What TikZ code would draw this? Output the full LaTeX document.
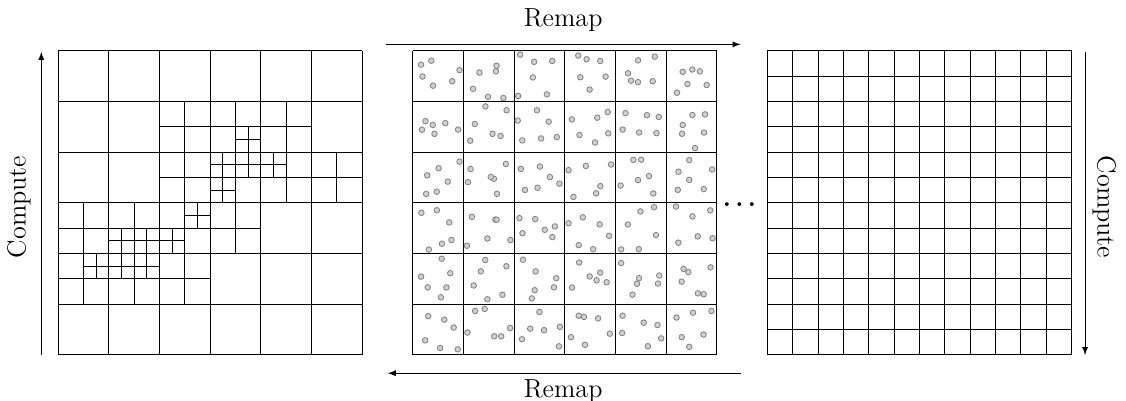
\documentclass[tikz,border=0pt]{standalone}
\usepackage{tikz}
\usepackage{xcolor}
\usetikzlibrary{arrows}
\usetikzlibrary{positioning}

\begin{document}
\begin{tikzpicture}[
        mesh/.style={black,line width=0.55pt},
        particle/.style={draw=black!50,fill=black!18,line width=0.45pt},
        flow/.style={->,>=latex,line width=0.55pt},
        caption/.style={font=\fontsize{14.7}{17}\selectfont,inner sep=0pt}]
        \useasboundingbox (-1.145,-0.908) rectangle (21.078,7.006);

        % adaptive mesh: coarse cells, then two levels of refinement
        \draw[mesh] (0,0) grid (6,6);
        \foreach \i/\j in {2/4,3/4,4/4,2/3,3/3,4/3,5/3,0/2,1/2,2/2,3/2,0/1,1/1,2/1}
            \draw[mesh] (\i,\j) grid[step=0.5] ++(1,1);
        \foreach \i/\j in {3.5/4,3/3.5,3.5/3.5,4/3.5,3/3,1/2,1.5/2,2/2,2.5/2.5,0.5/1.5,1/1.5,1.5/1.5}
            \draw[mesh] (\i,\j) grid[step=0.25] ++(0.5,0.5);

        % particles on the uniform coarse grid, six per cell
        \draw[mesh] (7,0) grid (13,6);
        \pgfmathsetseed{2718}
        \foreach \i in {0,...,5}
            \foreach \j in {0,...,5}
                \foreach \c in {0,1,2}
                    \foreach \r in {0,1}
                        \filldraw[particle] ({7+\i+0.07+0.86*(\c+rnd)/3},{\j+0.07+0.86*(\r+rnd)/2}) circle (0.055);

        % fine uniform mesh
        \draw[mesh] (14,0) grid[step=0.5] (20,6);
        \draw[mesh] (14,0) rectangle (20,6);

        \node[caption,anchor=base] (etc) at (13.45,2.94) {\bfseries .\,.\,.};

        % compute and remap steps
        \coordinate (upS) at (-0.33,0);
        \coordinate (upE) at (-0.33,5.98);
        \draw[flow] (upS) -- (upE);
        \node[caption,rotate=90] (computeL) at (-0.77,2.92) {Compute};

        \coordinate (downS) at (20.27,5.98);
        \coordinate (downE) at (20.27,0);
        \draw[flow] (downS) -- (downE);
        \node[caption,rotate=-90] (computeR) at (20.65,2.92) {Compute};

        \coordinate (fwdS) at (6.47,6.13);
        \coordinate (fwdE) at (13.47,6.13);
        \draw[flow] (fwdS) -- (fwdE);
        \node[caption,anchor=base] (remapTop) at (9.97,6.48) {Remap};

        \coordinate (backS) at (13.47,-0.36);
        \coordinate (backE) at (6.51,-0.36);
        \draw[flow] (backS) -- (backE);
        \node[caption,anchor=base] (remapBot) at (9.97,-0.843) {Remap};
    \end{tikzpicture}
\end{document}
